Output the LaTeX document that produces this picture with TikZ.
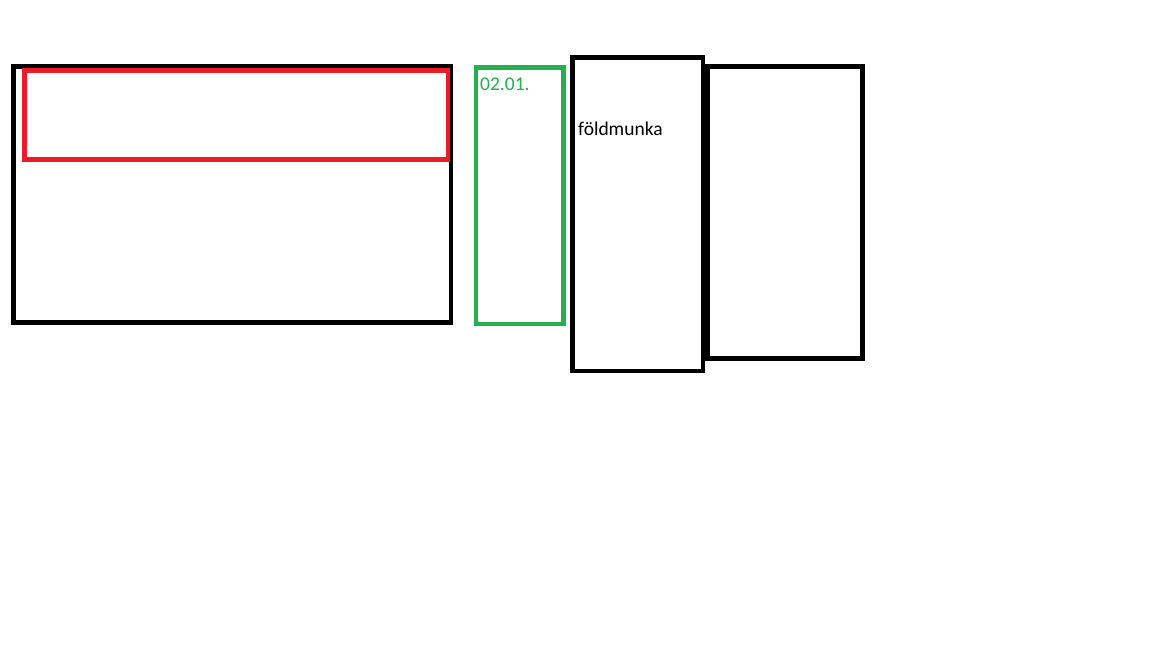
\documentclass[tikz,border=0pt]{standalone}
\usepackage{fontspec}
\setmainfont{Carlito}
\definecolor{pgreen}{HTML}{22B14C}
\definecolor{pred}{HTML}{ED1C24}
\begin{document}
\begin{tikzpicture}[x=1pt,y=-1pt,
  box/.style={line width=4.8pt,line join=miter},
  lbl/.style={anchor=base west,inner sep=0pt,font=\fontsize{19.5}{23}\selectfont}]
\useasboundingbox[fill=white] (0,0) rectangle (1152,648);
\draw[box,black] (13.5,66.5) rectangle (451,322.5);
\draw[box,pred] (24.3,70.7) rectangle (448,159.3);
\draw[box,pgreen] (476,67.5) rectangle (563.7,324);
\draw[box,black] (572.5,57.5) rectangle (703,371);
\draw[box,black] (707.5,66.7) rectangle (862.5,358.5);
\node[lbl,text=pgreen] (t1) at (480,90.3) {02.01.};
\node[lbl,text=black] (t2) at (578,135) {földmunka};
\end{tikzpicture}
\end{document}
